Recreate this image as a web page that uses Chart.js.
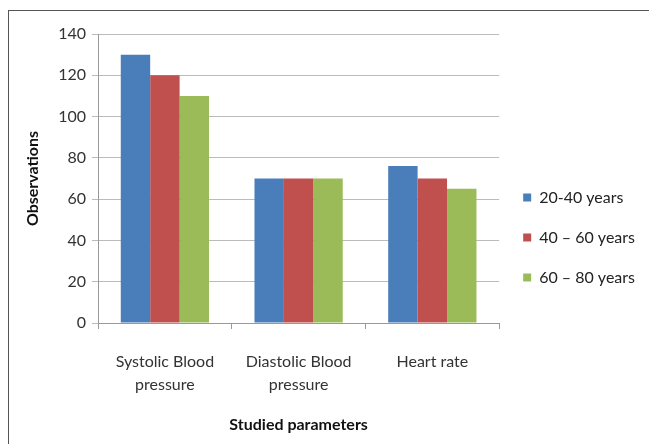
<!DOCTYPE html>
<html><head><meta charset="utf-8">
<script src="https://cdn.jsdelivr.net/npm/chart.js@4"></script>
<style>
html,body{margin:0;padding:0;background:#fff;}
#wrap{position:relative;width:649px;height:444px;}
#frame{position:absolute;left:8px;top:10px;right:0;bottom:0;border-left:1.5px solid #555;border-top:1.5px solid #555;}
canvas{position:absolute;left:0;top:0;}
</style></head>
<body><div id="wrap"><div id="frame"></div><canvas id="c" width="649" height="444"></canvas></div>
<script>
const categories = [["Systolic Blood","pressure"],["Diastolic Blood","pressure"],"Heart rate"];
const seriesNames = ["20-40 years","40 \u2013 60 years","60 \u2013 80 years"];
const age20to40 = [130, 70, 76];
const age40to60 = [120, 70, 70];
const age60to80 = [110, 70, 65];
const colors = ["#4a7ebb","#c0504d","#9bbb59"];
const yTicks = [0,20,40,60,80,100,120,140];

const FONT = "Lato, 'Open Sans', sans-serif";
new Chart(document.getElementById('c'), {
  type:'bar',
  data:{labels:categories, datasets:[
    {label:seriesNames[0], data:age20to40, backgroundColor:colors[0]},
    {label:seriesNames[1], data:age40to60, backgroundColor:colors[1]},
    {label:seriesNames[2], data:age60to80, backgroundColor:colors[2]}
  ]},
  options:{
    responsive:false, animation:false,
    layout:{padding:{left:19,top:34,right:4,bottom:3}},
    datasets:{bar:{categoryPercentage:0.66, barPercentage:1}},
    plugins:{
      legend:{position:'right', align:'center',
        labels:{boxWidth:8, boxHeight:8, padding:24, color:'#222', font:{family:FONT,size:16}}},
      tooltip:{enabled:false}
    },
    scales:{
      x:{
        grid:{drawOnChartArea:false, offset:true, tickLength:6, color:'#999'},
        border:{color:'#999'},
        ticks:{color:'#333', font:{family:FONT,size:16,lineHeight:1.4}, padding:22, maxRotation:0},
        title:{display:true, text:'Studied parameters', color:'#111', font:{family:FONT,size:16,weight:'bold'}, padding:{top:-3,bottom:7}}
      },
      y:{
        min:0,max:140,
        afterBuildTicks:(s)=>{s.ticks=yTicks.map(v=>({value:v}));},
        grid:{color:'#bbb', tickLength:6},
        border:{color:'#999'},
        ticks:{color:'#333', font:{family:FONT,size:16}, padding:6},
        title:{display:true, text:'Observations', color:'#111', font:{family:FONT,size:16,weight:'bold'}, padding:{top:4,bottom:10}}
      }
    }
  }
});
</script></body></html>
